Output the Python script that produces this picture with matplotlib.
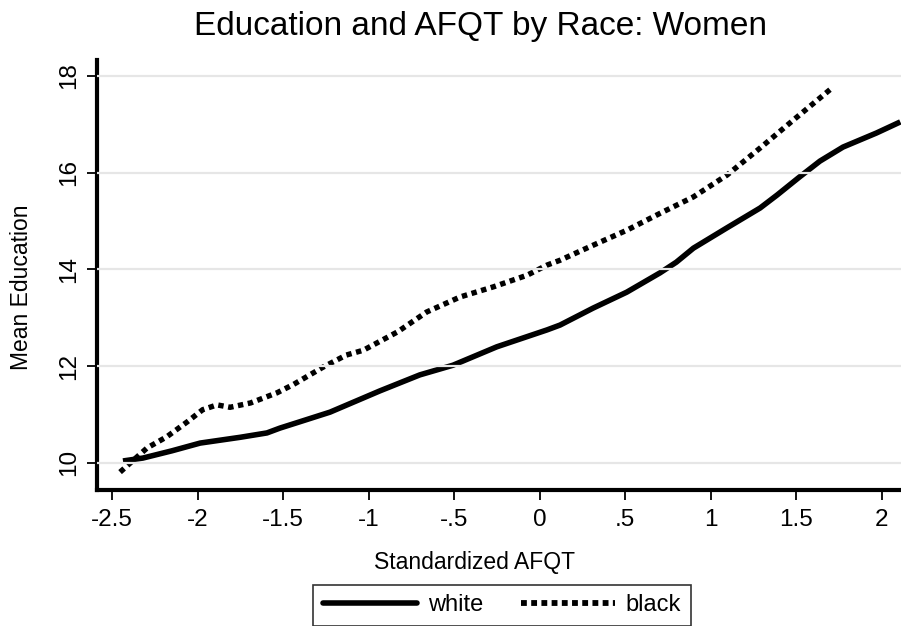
import matplotlib
matplotlib.use('Agg')
import matplotlib.pyplot as plt
from matplotlib.lines import Line2D

plt.rcParams['font.family'] = ['Liberation Sans', 'DejaVu Sans']

# values
white_x = [-2.436, -2.32, -2.15, -1.985, -1.75, -1.594, -1.518, -1.42, -1.225,
           -0.933, -0.70, -0.506, -0.25, 0.044, 0.12, 0.313, 0.51, 0.705, 0.80,
           0.90, 1.096, 1.29, 1.39, 1.52, 1.64, 1.775, 1.97, 2.11]
white_y = [10.04, 10.10, 10.25, 10.41, 10.53, 10.62, 10.72, 10.83, 11.05,
           11.49, 11.82, 12.02, 12.40, 12.75, 12.85, 13.20, 13.53, 13.93, 14.15,
           14.44, 14.86, 15.27, 15.54, 15.91, 16.24, 16.53, 16.82, 17.05]

black_x = [-2.453, -2.295, -2.18, -2.06, -1.97, -1.886, -1.81, -1.69, -1.535,
           -1.44, -1.266, -1.13, -1.03, -0.83, -0.66, -0.465, -0.27, -0.073,
           0.044, 0.12, 0.313, 0.51, 0.705, 0.90, 1.096, 1.29, 1.485, 1.71]
black_y = [9.81, 10.31, 10.54, 10.85, 11.10, 11.20, 11.15, 11.24, 11.45,
           11.62, 11.98, 12.23, 12.33, 12.71, 13.12, 13.43, 13.64, 13.88,
           14.09, 14.19, 14.50, 14.81, 15.16, 15.50, 15.95, 16.51, 17.09, 17.75]

x_ticks = [-2.5, -2, -1.5, -1, -0.5, 0, 0.5, 1, 1.5, 2]
x_labels = ['-2.5', '-2', '-1.5', '-1', '-.5', '0', '.5', '1', '1.5', '2']
y_ticks = [10, 12, 14, 16, 18]

fig = plt.figure(figsize=(9.01, 6.26), dpi=100)
ax = fig.add_axes([97 / 901, 1 - 490 / 626, 1 - 97 / 901, (490 - 60) / 626])

ax.plot(white_x, white_y, color='black', lw=4.0, solid_capstyle='butt',
        solid_joinstyle='round', zorder=2)
ax.plot(black_x, black_y, color='black', lw=3.9, dashes=(1, 0.85),
        dash_capstyle='butt', dash_joinstyle='miter', zorder=2)

ax.set_xlim(-2.588, 2.114)
ax.set_ylim(9.44, 18.33)
ax.set_xticks(x_ticks)
ax.set_xticklabels(x_labels)
ax.set_yticks(y_ticks)
ax.set_yticklabels([str(v) for v in y_ticks], rotation=90, va='center')

# grid drawn over the curves, as in the Stata output
ax.set_axisbelow(False)
ax.yaxis.grid(True, color='#e6e6e6', lw=1.6)
ax.xaxis.grid(False)

for s in ['top', 'right']:
    ax.spines[s].set_visible(False)
for s in ['left', 'bottom']:
    ax.spines[s].set_linewidth(3)
    ax.spines[s].set_capstyle('projecting')

ax.tick_params(axis='both', labelsize=17.5, width=1.3, length=7, direction='out')
ax.tick_params(axis='x', pad=7)
ax.tick_params(axis='y', pad=5)

fig.text(475 / 901, 1 - 562 / 626, 'Standardized AFQT', fontsize=16.5,
         ha='center', va='center')
fig.text(22 / 901, 1 - 287 / 626, 'Mean Education', fontsize=16.5,
         ha='center', va='center', rotation=90)

fig.text(481 / 901, 1 - 27 / 626, 'Education and AFQT by Race: Women',
         fontsize=24, ha='center', va='center')

handles = [Line2D([], [], color='black', lw=4.0, solid_capstyle='round'),
           Line2D([], [], color='black', lw=4.2, dashes=(1, 0.75), dash_capstyle='butt')]
leg = fig.legend(handles, ['white', 'black'], loc='upper center',
                 bbox_to_anchor=(502 / 901, 1 - 585 / 626), ncol=2, fontsize=17,
                 frameon=True, fancybox=False, handlelength=4.0, handletextpad=0.45,
                 columnspacing=1.6, borderpad=0.4, borderaxespad=0)
leg.get_frame().set_edgecolor('black')
leg.get_frame().set_linewidth(1.2)

fig.savefig('out.png', dpi=100, facecolor='white')
